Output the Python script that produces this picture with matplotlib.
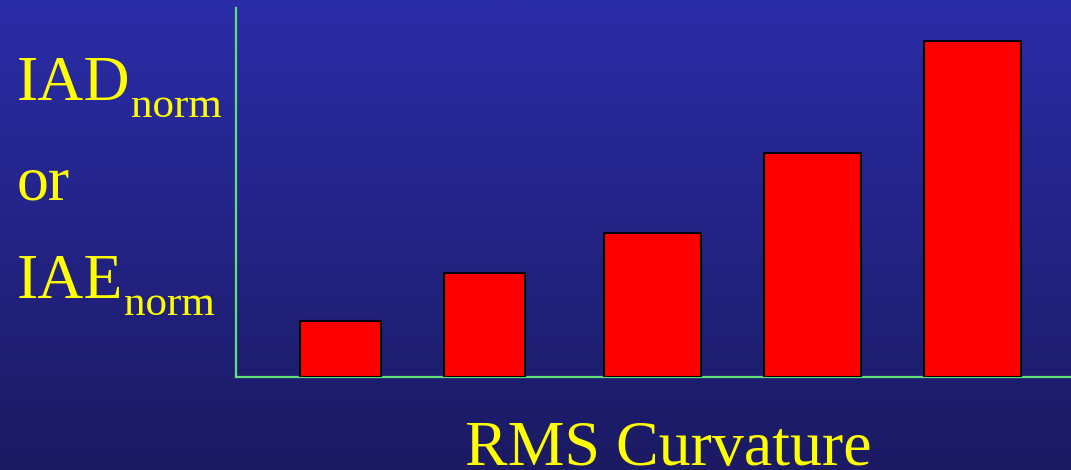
import numpy as np
import matplotlib.pyplot as plt

# bar heights (arbitrary units) and bar centres along the curvature axis
curvature = [104.5, 248.5, 416.5, 576.5, 736.5]
iad_norm = [0.50, 0.93, 1.29, 2.00, 3.00]
bar_widths = [81, 81, 97, 97, 97]

W, H = 1071, 470
fig = plt.figure(figsize=(W / 100, H / 100), dpi=100)

# blue gradient backdrop
bg = fig.add_axes([0, 0, 1, 1])
grad = np.linspace(0, 1, 256)[:, None]
top = np.array([43, 44, 168]) / 255
bottom = np.array([27, 26, 98]) / 255
img = top + (bottom - top) * grad[:, :, None]
bg.imshow(img, aspect="auto", extent=[0, 1, 0, 1])
bg.axis("off")

ax = fig.add_axes([236 / W, (H - 377) / H, (W - 236) / W, (377 - 8) / H])
ax.patch.set_alpha(0)
ax.bar(curvature, iad_norm, width=bar_widths, color="#ff0000",
       edgecolor="black", linewidth=1.5, zorder=3)
ax.set_xlim(0, W - 236)
ax.set_ylim(0, 369 / 112)
for s in ["top", "right"]:
    ax.spines[s].set_visible(False)
for s in ["left", "bottom"]:
    ax.spines[s].set_color("#5ee07a")
    ax.spines[s].set_linewidth(1.6)
ax.set_xticks([])
ax.set_yticks([])

yellow = "#ffff00"
serif = "Liberation Serif"
fs = 46
renderer = fig.canvas.get_renderer()


def label_with_sub(text, sub, x_px, base_px):
    t = fig.text(x_px / W, 1 - base_px / H, text, fontsize=fs,
                 family=serif, color=yellow, va="baseline")
    x1 = t.get_window_extent(renderer).x1
    fig.text((x1 + 1) / W, 1 - (base_px + 17) / H, sub, fontsize=31,
             family=serif, color=yellow, va="baseline")


label_with_sub("IAD", "norm", 17, 100)
fig.text(17 / W, 1 - 200 / H, "or", fontsize=fs,
         family=serif, color=yellow, va="baseline")
label_with_sub("IAE", "norm", 17, 298)
fig.text(465 / W, 1 - 465 / H, "RMS Curvature", fontsize=fs,
         family=serif, color=yellow, va="baseline")

fig.savefig("out.png", dpi=100)
